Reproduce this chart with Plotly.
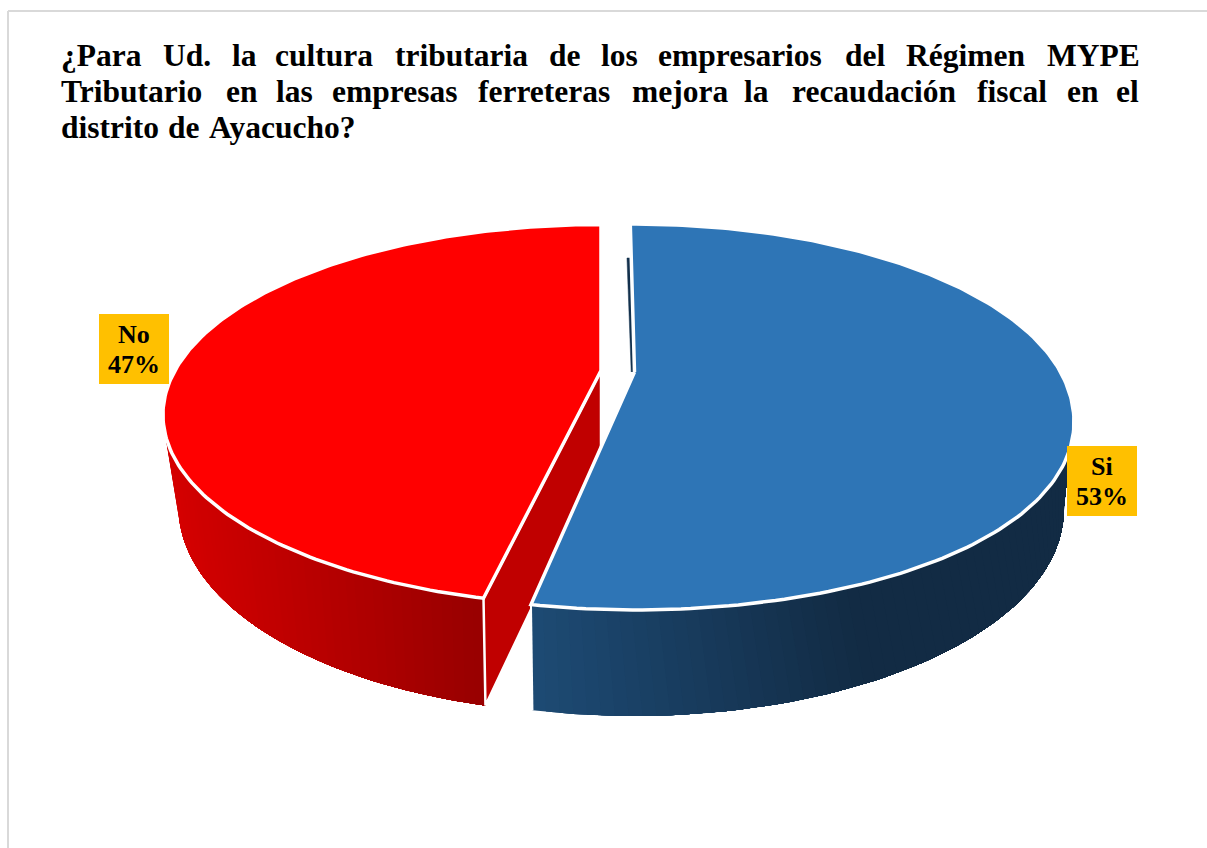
import numpy as np
import plotly.graph_objects as go

# ---- data ----
categories = ["Si", "No"]
values = [53, 47]
title_line_1 = ["¿Para", "Ud.", "la", "cultura", "tributaria", "de", "los", "empresarios", "del", "Régimen", "MYPE"]
title_line_2 = ["Tributario", "en", "las", "empresas", "ferreteras", "mejora", "la", "recaudación", "fiscal", "en", "el"]
title_line_3 = ["distrito", "de", "Ayacucho?"]

# ---- layout of the text ----
x_line_1 = [60, 162, 231, 274, 394, 548, 600, 657, 844, 905, 1046]
x_line_2 = [60, 225, 275, 331, 477, 631, 743, 791, 976, 1066, 1115]
x_line_3 = [60, 167, 208]
y_lines = [55, 91, 127.5]
TITLE_SIZE = 31.5
LABEL_SIZE = 26

# ---- colours ----
SI_TOP, NO_TOP = "#2E75B6", "#FF0000"
SI_WALL = ((0x1D, 0x4A, 0x73), (0x12, 0x2B, 0x44), 534, 850)
NO_WALL = ((0xD6, 0x00, 0x00), (0x99, 0x00, 0x00), 170, 480)
NO_INNER, SI_INNER = "#C00000", "#12304C"
LABEL_BG, FRAME = "#FFC000", "#D9D9D9"

# ---- perspective of the disc ----
K = 0.233
SI_T = dict(X0=634.5, Y0=372, a=182.5, b=426, bulge=25)
SI_B = dict(X0=634, Y0=462, a=194.8, b=418)
NO_T = dict(X0=601, Y0=370.5, a=180, b=426)
NO_B = dict(X0=598, Y0=459, a=194.8, b=408)


def proj(deg, X0, Y0, a, b, bulge=0):
    r = np.radians(np.asarray(deg, float))
    u, v = np.sin(r), np.cos(r)
    w = 1 + K * v
    return X0 + b * u / w + bulge * np.clip(u, 0, None) * np.where(v < 0, v * v, 0), Y0 - a * v / w


def mix(wall, x):
    c0, c1, x0, x1 = wall
    t = float(np.clip((x - x0) / (x1 - x0), 0, 1))
    return "rgb(%d,%d,%d)" % tuple(round(p + (q - p) * t) for p, q in zip(c0, c1))


def poly(fig, xs, ys, fill, line=None, width=1.0):
    fig.add_trace(go.Scatter(
        x=list(xs), y=list(ys), mode="lines", fill="toself" if fill else None,
        fillcolor=fill, line=dict(color=line or fill or "white", width=width),
        hoverinfo="skip", showlegend=False))


def wall(fig, a0, a1_top, a1_bot, top, bot, colours, start_at_end=False, n=60):
    """Painter's order: each band runs from its own angle to the far end of
    the wall, so the later bands cover the earlier ones without seams."""
    tx, ty = proj(np.linspace(a0, a1_top, n + 1), **top)
    bx, by = proj(np.linspace(a0, a1_bot, n + 1), **bot)
    order = range(n - 1, -1, -1) if start_at_end else range(n)
    for i in order:
        sel = np.arange(i + 2) if start_at_end else np.arange(i, n + 1)
        xs = np.r_[tx[sel], bx[sel][::-1], tx[sel][0]]
        ys = np.r_[ty[sel], by[sel][::-1], ty[sel][0]]
        poly(fig, xs, ys, mix(colours, (tx[i] + bx[i]) / 2), width=0)


def top_face(fig, a0, a1, p, colour):
    ang = np.linspace(a0, a1, 200)
    x, y = proj(ang, **p)
    poly(fig, np.r_[p["X0"], x, p["X0"]], np.r_[p["Y0"], y, p["Y0"]], colour, line="white", width=3.5)


fig = go.Figure()
split = 360 * values[0] / sum(values)
si_start, no_start = -0.7, split + 1.5

# red slice: outer wall, cut face, top
wall(fig, no_start, 262, 262, NO_T, NO_B, NO_WALL, start_at_end=True)
cx, cy = proj(no_start, **NO_T)
dx, dy = proj(no_start, **NO_B)
poly(fig, [NO_T["X0"], cx, dx, NO_T["X0"], NO_T["X0"]],
     [NO_T["Y0"], cy, dy, SI_B["Y0"], NO_T["Y0"]], NO_INNER, line="white", width=2.5)
top_face(fig, no_start, 360, NO_T, NO_TOP)

# blue slice: cut face, outer wall, top
fx, fy = proj(si_start, **SI_T)
poly(fig, [SI_T["X0"] - 3.3, fx - 3.3, fx, SI_T["X0"]],
     [SI_T["Y0"], fy + 34, fy + 34, SI_T["Y0"]], SI_INNER, line=SI_INNER, width=0.5)
wall(fig, split, 112, 103, SI_T, SI_B, SI_WALL)
ex, ey = proj(split, **SI_T)
hx, hy = proj(split, **SI_B)
poly(fig, [ex, hx], [ey, hy], None, line="white", width=2)
top_face(fig, si_start, split, SI_T, SI_TOP)

shapes = [
    dict(type="line", x0=8, x1=8, y0=11, y1=848, line=dict(color=FRAME, width=2)),
    dict(type="line", x0=8, x1=1207, y0=11, y1=11, line=dict(color=FRAME, width=2)),
]
annotations = []


def text(x, y, s, size, xanchor="left"):
    annotations.append(dict(x=x, y=y, text=s, xref="x", yref="y", showarrow=False, xanchor=xanchor,
                            yanchor="middle", borderpad=0,
                            font=dict(family="Liberation Serif", size=size, color="black")))


for words, xs, y in zip((title_line_1, title_line_2, title_line_3), (x_line_1, x_line_2, x_line_3), y_lines):
    for w, x in zip(words, xs):
        text(x, y, f"<b>{w}</b>", TITLE_SIZE)

label_boxes = {"Si": (1067, 446), "No": (99, 314)}
for name, v in zip(categories, values):
    bx0, by0 = label_boxes[name]
    shapes.append(dict(type="rect", x0=bx0, x1=bx0 + 70, y0=by0, y1=by0 + 70,
                       fillcolor=LABEL_BG, line=dict(width=0), layer="above"))
    text(bx0 + 35, by0 + 20.5, f"<b>{name}</b>", LABEL_SIZE, "center")
    text(bx0 + 35, by0 + 50.5, f"<b>{v}%</b>", LABEL_SIZE, "center")

fig.update_layout(
    width=1207, height=848, margin=dict(l=0, r=0, t=0, b=0),
    paper_bgcolor="white", plot_bgcolor="white", showlegend=False,
    xaxis=dict(range=[0, 1207], visible=False, fixedrange=True),
    yaxis=dict(range=[848, 0], visible=False, fixedrange=True),
    shapes=shapes, annotations=annotations,
)
fig.write_html("out.html", config=dict(displayModeBar=False),
               post_script="document.body.style.margin='0';document.body.style.overflow='hidden';")
